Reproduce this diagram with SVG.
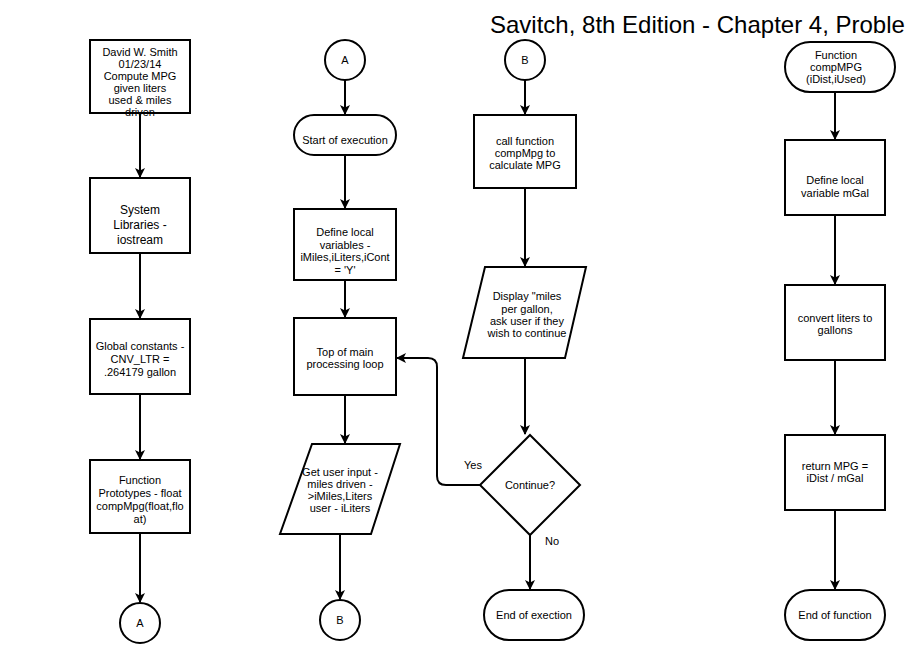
<svg xmlns="http://www.w3.org/2000/svg" width="905" height="660" viewBox="0 0 905 660">
<style>
.s{fill:#fff;stroke:#000;stroke-width:2}
.t{font-family:"Liberation Sans",Arial,sans-serif;font-size:11px;fill:#000;text-anchor:middle}
.t12{font-size:12px}
.c{fill:none;stroke:#000;stroke-width:2}
</style>
<defs>
<marker id="ah" markerUnits="userSpaceOnUse" markerWidth="10" markerHeight="10" viewBox="0 0 10 10" refX="9" refY="5" orient="auto">
<path d="M0,0 L10,5 L0,10 L2.5,5 z" fill="#000"/>
</marker>
</defs>
<rect width="905" height="660" fill="#fff"/>
<text x="490" y="33" style="font-family:'Liberation Sans',Arial,sans-serif;font-size:24px;fill:#000">Savitch, 8th Edition - Chapter 4, Proble</text>

<g id="connectors">
<path class="c" d="M140,113 V177" marker-end="url(#ah)"/>
<path class="c" d="M140,253 V318" marker-end="url(#ah)"/>
<path class="c" d="M140,394 V459" marker-end="url(#ah)"/>
<path class="c" d="M140,533 V602" marker-end="url(#ah)"/>
<path class="c" d="M345,80 V114" marker-end="url(#ah)"/>
<path class="c" d="M345,155 V208" marker-end="url(#ah)"/>
<path class="c" d="M345,280 V317" marker-end="url(#ah)"/>
<path class="c" d="M345,395 V443" marker-end="url(#ah)"/>
<path class="c" d="M340,534 V599" marker-end="url(#ah)"/>
<path class="c" d="M525,80 V114" marker-end="url(#ah)"/>
<path class="c" d="M525,188 V266" marker-end="url(#ah)"/>
<path class="c" d="M525,358 V434" marker-end="url(#ah)"/>
<path class="c" d="M530,535 V589" marker-end="url(#ah)"/>
<path class="c" d="M480,485 H446 Q437,485 437,476 V367 Q437,358 428,358 H397" marker-end="url(#ah)"/>
<path class="c" d="M835,92 V139" marker-end="url(#ah)"/>
<path class="c" d="M835,215 V284" marker-end="url(#ah)"/>
<path class="c" d="M835,360 V434" marker-end="url(#ah)"/>
<path class="c" d="M835,510 V589" marker-end="url(#ah)"/>
<text class="t" x="473" y="469">Yes</text>
<text class="t" x="552" y="545">No</text>
</g>

<g id="header">
<rect class="s" x="90" y="40" width="100" height="73"/>
<text class="t"><tspan x="140" y="56">David W. Smith</tspan><tspan x="140" y="68">01/23/14</tspan><tspan x="140" y="80">Compute MPG</tspan><tspan x="140" y="92">given liters</tspan><tspan x="140" y="104">used &amp; miles</tspan><tspan x="140" y="116">driven</tspan></text>
</g>
<g id="libraries">
<rect class="s" x="90" y="178" width="100" height="75"/>
<text class="t t12"><tspan x="140" y="214">System</tspan><tspan x="140" y="229">Libraries -</tspan><tspan x="140" y="244">iostream</tspan></text>
</g>
<g id="globals">
<rect class="s" x="90" y="319" width="100" height="75"/>
<text class="t"><tspan x="140" y="350">Global constants -</tspan><tspan x="140" y="363">CNV_LTR =</tspan><tspan x="140" y="376">.264179 gallon</tspan></text>
</g>
<g id="prototypes">
<rect class="s" x="90" y="460" width="100" height="73"/>
<text class="t"><tspan x="140" y="484">Function</tspan><tspan x="140" y="497">Prototypes - float</tspan><tspan x="140" y="510">compMpg(float,flo</tspan><tspan x="140" y="523">at)</tspan></text>
</g>
<g id="connA1">
<circle class="s" cx="140" cy="623" r="20"/>
<text class="t" x="140" y="627">A</text>
</g>

<g id="connA2">
<circle class="s" cx="345" cy="60" r="20"/>
<text class="t" x="345" y="64">A</text>
</g>
<g id="start">
<rect class="s" x="294" y="115" width="102" height="40" rx="20"/>
<text class="t" x="345" y="144">Start of execution</text>
</g>
<g id="locals">
<rect class="s" x="294" y="209" width="102" height="71"/>
<text class="t"><tspan x="345" y="236">Define local</tspan><tspan x="345" y="248.5">variables -</tspan><tspan x="345" y="261">iMiles,iLiters,iCont</tspan><tspan x="345" y="273.5">= 'Y'</tspan></text>
</g>
<g id="loop">
<rect class="s" x="294" y="318" width="102" height="77"/>
<text class="t"><tspan x="345" y="356">Top of main</tspan><tspan x="345" y="368">processing loop</tspan></text>
</g>
<g id="input">
<polygon class="s" points="312,444 400,444 371,534 280,534"/>
<text class="t"><tspan x="340" y="476">Get user input -</tspan><tspan x="340" y="488">miles driven -</tspan><tspan x="340" y="500">&gt;iMiles,Liters</tspan><tspan x="340" y="512">user - iLiters</tspan></text>
</g>
<g id="connB1">
<circle class="s" cx="340" cy="620" r="20"/>
<text class="t" x="340" y="624">B</text>
</g>

<g id="connB2">
<circle class="s" cx="525" cy="60" r="20"/>
<text class="t" x="525" y="64">B</text>
</g>
<g id="call">
<rect class="s" x="474" y="115" width="102" height="73"/>
<text class="t"><tspan x="525" y="145">call function</tspan><tspan x="525" y="157">compMpg to</tspan><tspan x="525" y="169">calculate MPG</tspan></text>
</g>
<g id="display">
<polygon class="s" points="485,267 586,267 565,358 463,358"/>
<text class="t"><tspan x="527" y="300">Display "miles</tspan><tspan x="527" y="312.5">per gallon,</tspan><tspan x="527" y="325">ask user if they</tspan><tspan x="527" y="337">wish to continue</tspan></text>
</g>
<g id="decision">
<polygon class="s" points="530,435 580,485 530,535 480,485"/>
<text class="t" x="530" y="489">Continue?</text>
</g>
<g id="end">
<rect class="s" x="484" y="590" width="100" height="50" rx="25"/>
<text class="t" x="534" y="619">End of exection</text>
</g>

<g id="func">
<rect class="s" x="785" y="42" width="110" height="50" rx="25"/>
<text class="t"><tspan x="836" y="59">Function</tspan><tspan x="836" y="71">compMPG</tspan><tspan x="836" y="83">(iDist,iUsed)</tspan></text>
</g>
<g id="mgal">
<rect class="s" x="785" y="140" width="100" height="75"/>
<text class="t"><tspan x="835" y="184">Define local</tspan><tspan x="835" y="197">variable mGal</tspan></text>
</g>
<g id="convert">
<rect class="s" x="785" y="285" width="100" height="75"/>
<text class="t"><tspan x="835" y="322">convert liters to</tspan><tspan x="835" y="334">gallons</tspan></text>
</g>
<g id="return">
<rect class="s" x="785" y="435" width="100" height="75"/>
<text class="t"><tspan x="835" y="470">return MPG =</tspan><tspan x="835" y="482">iDist / mGal</tspan></text>
</g>
<g id="endfunc">
<rect class="s" x="785" y="590" width="100" height="50" rx="25"/>
<text class="t" x="835" y="619">End of function</text>
</g>
</svg>
